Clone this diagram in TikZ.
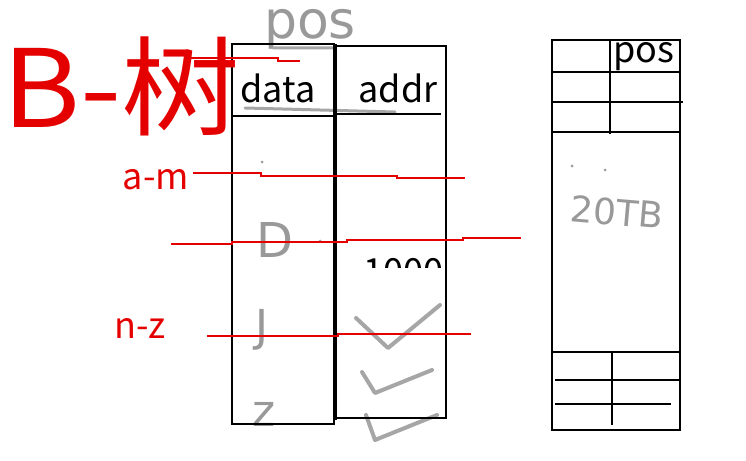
\documentclass[tikz,border=0pt]{standalone}
\usepackage{fontspec}
\setmainfont{Noto Sans CJK SC}
\newfontfamily\handfont{DejaVu Sans}
\usepackage{tikz}

\tikzset{
  cell/.style={black, line width=2pt},
  thickcell/.style={black, line width=3pt},
  redline/.style={red!90!black, line width=2pt},
  scribble/.style={black!35, line width=4pt, line cap=round, line join=round},
  label/.style={inner sep=0pt, font=\fontsize{36}{40}\selectfont},
  redlabel/.style={label, text=red!90!black},
  handtext/.style={inner sep=0pt, text=black!40, font=\handfont\fontsize{44}{48}\selectfont}
}

\begin{document}
\begin{tikzpicture}[x=1pt, y=-1pt]
\useasboundingbox[fill=white] (0,0) rectangle (746,460);

% gray pencil scribbles underneath
\node[handtext, font=\handfont\fontsize{52}{54}\selectfont, anchor=base, text height=29pt] (hpos) at (310,38) {pos};
\node[handtext, font=\handfont\fontsize{48}{50}\selectfont] (hD) at (275,240) {D};
\node[handtext] (hJ) at (262,330) {J};
\node[handtext] (hz) at (264,414) {z};
\node[handtext, font=\handfont\fontsize{36}{38}\selectfont, rotate=-5] (htb) at (617,212) {20TB};
\draw[scribble, line width=3pt] (273,48) -- (335,48)
  (245,108) -- (395,112);
\draw[scribble] (356,318) -- (388,348) -- (440,305)
  (362,372) -- (375,393) -- (432,370)
  (366,415) -- (375,440) -- (437,415);
\fill[black!40] (262,162) circle(1.5) (320,241) circle(1.5)
  (572,166) circle(1.5) (605,170) circle(1.5);

% data and addr columns
\draw[cell] (232,44) rectangle (334,424);
\draw[cell] (232,116) -- (334,116);
\draw[cell] (334,46) -- (446,46) -- (446,418) -- (334,418);
\draw[thickcell] (335,44) -- (335,420);
\draw[cell] (336,114) -- (441,114);
\node[label] (data) at (278,88) {data};
\node[label] (addr) at (398,88) {addr};

% cut-off number
\begin{scope}
\clip (350,250) rectangle (460,267);
\node[label, anchor=base west] (num) at (363,284) {1000};
\end{scope}

% right column
\draw[cell] (552,40) rectangle (680,430);
\draw[cell] (552,72) -- (680,72)
  (552,102) -- (683,102)
  (552,132) -- (680,132)
  (610,40) -- (610,134);
\node[label, anchor=west] (pos) at (613,57) {pos};
\draw[cell] (552,352) -- (680,352)
  (612,352) -- (612,425)
  (555,380) -- (680,380)
  (555,404) -- (671,404);

% red notes
\node[redlabel, font=\fontsize{108}{110}\selectfont, anchor=west, xscale=1.1] (btree) at (2,86) {B-树};
\node[redlabel] (am) at (156,180) {a-m};
\node[redlabel] (nz) at (140,328) {n-z};
\draw[redline] (189,58) -- (278,58) -- (278,61) -- (300,61);
\draw[redline] (193,173) -- (261,173) -- (261,176) -- (397,176) -- (397,178) -- (465,178);
\draw[redline] (171,244) -- (232,244) -- (232,241.5) -- (347,241.5) -- (347,240) -- (463,240) -- (463,238) -- (521,238);
\draw[redline] (207,336) -- (338,336) -- (338,334) -- (471,334);
\end{tikzpicture}
\end{document}
